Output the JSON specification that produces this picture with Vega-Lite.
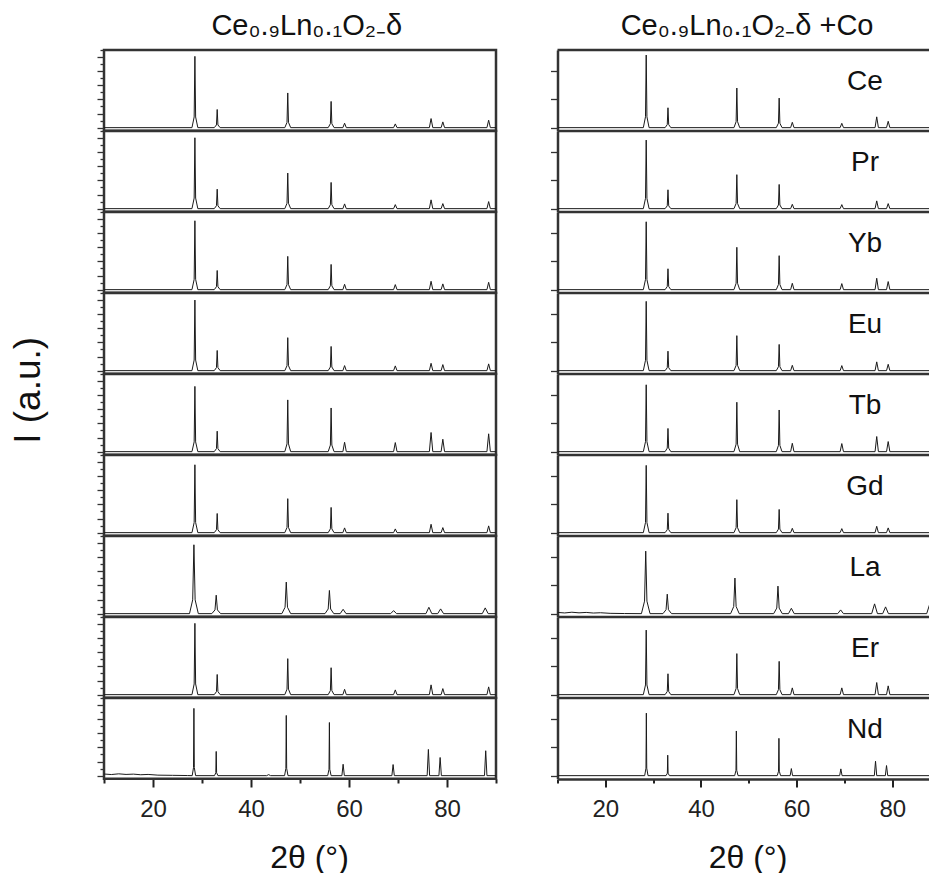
{
"$schema": "https://vega.github.io/schema/vega-lite/v6.json",
"padding": {"left": 10, "top": 11, "right": 0, "bottom": 0},
"title": {"text": "I (a.u.)", "orient": "left", "anchor": "middle", "fontSize": 37, "fontWeight": "normal", "font": "Liberation Sans", "color": "#111", "offset": 48, "dx": 52},
"datasets": {
"L": [
{"s":"Ce","x":10,"y":0},{"s":"Ce","x":27.95,"y":0},{"s":"Ce","x":28.4,"y":10.6},{"s":"Ce","x":28.55,"y":70.7},{"s":"Ce","x":28.7,"y":10.6},{"s":"Ce","x":29.15,"y":0},
{"s":"Ce","x":32.5,"y":0},{"s":"Ce","x":32.95,"y":2.7},{"s":"Ce","x":33.1,"y":18},{"s":"Ce","x":33.25,"y":2.7},{"s":"Ce","x":33.7,"y":0},
{"s":"Ce","x":46.9,"y":0},{"s":"Ce","x":47.35,"y":5.2},{"s":"Ce","x":47.5,"y":34.4},{"s":"Ce","x":47.65,"y":5.2},{"s":"Ce","x":48.1,"y":0},
{"s":"Ce","x":55.75,"y":0},{"s":"Ce","x":56.2,"y":3.9},{"s":"Ce","x":56.35,"y":26},{"s":"Ce","x":56.5,"y":3.9},{"s":"Ce","x":56.95,"y":0},
{"s":"Ce","x":58.75,"y":0},{"s":"Ce","x":59.1,"y":4.4},{"s":"Ce","x":59.45,"y":0},
{"s":"Ce","x":69.1,"y":0},{"s":"Ce","x":69.45,"y":3.7},{"s":"Ce","x":69.8,"y":0},
{"s":"Ce","x":76.4,"y":0},{"s":"Ce","x":76.75,"y":9},{"s":"Ce","x":77.1,"y":0},
{"s":"Ce","x":78.8,"y":0},{"s":"Ce","x":79.15,"y":5.7},{"s":"Ce","x":79.5,"y":0},
{"s":"Ce","x":88.15,"y":0},{"s":"Ce","x":88.5,"y":7.4},{"s":"Ce","x":88.85,"y":0},{"s":"Ce","x":90,"y":0},

{"s":"Pr","x":10,"y":0},{"s":"Pr","x":27.95,"y":0},{"s":"Pr","x":28.4,"y":10.5},{"s":"Pr","x":28.55,"y":70.3},{"s":"Pr","x":28.7,"y":10.5},{"s":"Pr","x":29.15,"y":0},
{"s":"Pr","x":32.5,"y":0},{"s":"Pr","x":32.95,"y":2.9},{"s":"Pr","x":33.1,"y":19.3},{"s":"Pr","x":33.25,"y":2.9},{"s":"Pr","x":33.7,"y":0},
{"s":"Pr","x":46.9,"y":0},{"s":"Pr","x":47.35,"y":5.3},{"s":"Pr","x":47.5,"y":35.3},{"s":"Pr","x":47.65,"y":5.3},{"s":"Pr","x":48.1,"y":0},
{"s":"Pr","x":55.75,"y":0},{"s":"Pr","x":56.2,"y":3.9},{"s":"Pr","x":56.35,"y":26},{"s":"Pr","x":56.5,"y":3.9},{"s":"Pr","x":56.95,"y":0},
{"s":"Pr","x":58.75,"y":0},{"s":"Pr","x":59.1,"y":4.7},{"s":"Pr","x":59.45,"y":0},
{"s":"Pr","x":69.1,"y":0},{"s":"Pr","x":69.45,"y":4},{"s":"Pr","x":69.8,"y":0},
{"s":"Pr","x":76.4,"y":0},{"s":"Pr","x":76.75,"y":8.7},{"s":"Pr","x":77.1,"y":0},
{"s":"Pr","x":78.8,"y":0},{"s":"Pr","x":79.15,"y":5},{"s":"Pr","x":79.5,"y":0},
{"s":"Pr","x":88.15,"y":0},{"s":"Pr","x":88.5,"y":7},{"s":"Pr","x":88.85,"y":0},{"s":"Pr","x":90,"y":0},

{"s":"Yb","x":10,"y":0},{"s":"Yb","x":27.95,"y":0},{"s":"Yb","x":28.4,"y":10.2},{"s":"Yb","x":28.55,"y":68.3},{"s":"Yb","x":28.7,"y":10.2},{"s":"Yb","x":29.15,"y":0},
{"s":"Yb","x":32.5,"y":0},{"s":"Yb","x":32.95,"y":2.9},{"s":"Yb","x":33.1,"y":19},{"s":"Yb","x":33.25,"y":2.9},{"s":"Yb","x":33.7,"y":0},
{"s":"Yb","x":46.9,"y":0},{"s":"Yb","x":47.35,"y":5},{"s":"Yb","x":47.5,"y":33},{"s":"Yb","x":47.65,"y":5},{"s":"Yb","x":48.1,"y":0},
{"s":"Yb","x":55.75,"y":0},{"s":"Yb","x":56.2,"y":3.8},{"s":"Yb","x":56.35,"y":25},{"s":"Yb","x":56.5,"y":3.8},{"s":"Yb","x":56.95,"y":0},
{"s":"Yb","x":58.75,"y":0},{"s":"Yb","x":59.1,"y":5.3},{"s":"Yb","x":59.45,"y":0},
{"s":"Yb","x":69.1,"y":0},{"s":"Yb","x":69.45,"y":5},{"s":"Yb","x":69.8,"y":0},
{"s":"Yb","x":76.4,"y":0},{"s":"Yb","x":76.75,"y":8.3},{"s":"Yb","x":77.1,"y":0},
{"s":"Yb","x":78.8,"y":0},{"s":"Yb","x":79.15,"y":5.7},{"s":"Yb","x":79.5,"y":0},
{"s":"Yb","x":88.15,"y":0},{"s":"Yb","x":88.5,"y":7.3},{"s":"Yb","x":88.85,"y":0},{"s":"Yb","x":90,"y":0},

{"s":"Eu","x":10,"y":0},{"s":"Eu","x":27.95,"y":0},{"s":"Eu","x":28.4,"y":10.5},{"s":"Eu","x":28.55,"y":70},{"s":"Eu","x":28.7,"y":10.5},{"s":"Eu","x":29.15,"y":0},
{"s":"Eu","x":32.5,"y":0},{"s":"Eu","x":32.95,"y":3},{"s":"Eu","x":33.1,"y":20},{"s":"Eu","x":33.25,"y":3},{"s":"Eu","x":33.7,"y":0},
{"s":"Eu","x":46.9,"y":0},{"s":"Eu","x":47.35,"y":4.9},{"s":"Eu","x":47.5,"y":32.7},{"s":"Eu","x":47.65,"y":4.9},{"s":"Eu","x":48.1,"y":0},
{"s":"Eu","x":55.75,"y":0},{"s":"Eu","x":56.2,"y":3.6},{"s":"Eu","x":56.35,"y":24},{"s":"Eu","x":56.5,"y":3.6},{"s":"Eu","x":56.95,"y":0},
{"s":"Eu","x":58.75,"y":0},{"s":"Eu","x":59.1,"y":5},{"s":"Eu","x":59.45,"y":0},
{"s":"Eu","x":69.1,"y":0},{"s":"Eu","x":69.45,"y":4.7},{"s":"Eu","x":69.8,"y":0},
{"s":"Eu","x":76.4,"y":0},{"s":"Eu","x":76.75,"y":7.3},{"s":"Eu","x":77.1,"y":0},
{"s":"Eu","x":78.8,"y":0},{"s":"Eu","x":79.15,"y":6},{"s":"Eu","x":79.5,"y":0},
{"s":"Eu","x":88.15,"y":0},{"s":"Eu","x":88.5,"y":6.7},{"s":"Eu","x":88.85,"y":0},{"s":"Eu","x":90,"y":0},

{"s":"Tb","x":10,"y":0},{"s":"Tb","x":27.95,"y":0},{"s":"Tb","x":28.4,"y":9.7},{"s":"Tb","x":28.55,"y":64.7},{"s":"Tb","x":28.7,"y":9.7},{"s":"Tb","x":29.15,"y":0},
{"s":"Tb","x":32.5,"y":0},{"s":"Tb","x":32.95,"y":3},{"s":"Tb","x":33.1,"y":20.3},{"s":"Tb","x":33.25,"y":3},{"s":"Tb","x":33.7,"y":0},
{"s":"Tb","x":46.9,"y":0},{"s":"Tb","x":47.35,"y":7.7},{"s":"Tb","x":47.5,"y":51.3},{"s":"Tb","x":47.65,"y":7.7},{"s":"Tb","x":48.1,"y":0},
{"s":"Tb","x":55.75,"y":0},{"s":"Tb","x":56.2,"y":6.5},{"s":"Tb","x":56.35,"y":43.3},{"s":"Tb","x":56.5,"y":6.5},{"s":"Tb","x":56.95,"y":0},
{"s":"Tb","x":58.75,"y":0},{"s":"Tb","x":59.1,"y":9.3},{"s":"Tb","x":59.45,"y":0},
{"s":"Tb","x":69.1,"y":0},{"s":"Tb","x":69.45,"y":9},{"s":"Tb","x":69.8,"y":0},
{"s":"Tb","x":76.4,"y":0},{"s":"Tb","x":76.75,"y":19},{"s":"Tb","x":77.1,"y":0},
{"s":"Tb","x":78.8,"y":0},{"s":"Tb","x":79.15,"y":12.3},{"s":"Tb","x":79.5,"y":0},
{"s":"Tb","x":88.15,"y":0},{"s":"Tb","x":88.5,"y":17.7},{"s":"Tb","x":88.85,"y":0},{"s":"Tb","x":90,"y":0},

{"s":"Gd","x":10,"y":0},{"s":"Gd","x":27.95,"y":0},{"s":"Gd","x":28.4,"y":10.1},{"s":"Gd","x":28.55,"y":67.3},{"s":"Gd","x":28.7,"y":10.1},{"s":"Gd","x":29.15,"y":0},
{"s":"Gd","x":32.5,"y":0},{"s":"Gd","x":32.95,"y":2.9},{"s":"Gd","x":33.1,"y":19},{"s":"Gd","x":33.25,"y":2.9},{"s":"Gd","x":33.7,"y":0},
{"s":"Gd","x":46.9,"y":0},{"s":"Gd","x":47.35,"y":5.1},{"s":"Gd","x":47.5,"y":33.7},{"s":"Gd","x":47.65,"y":5.1},{"s":"Gd","x":48.1,"y":0},
{"s":"Gd","x":55.75,"y":0},{"s":"Gd","x":56.2,"y":3.8},{"s":"Gd","x":56.35,"y":25},{"s":"Gd","x":56.5,"y":3.8},{"s":"Gd","x":56.95,"y":0},
{"s":"Gd","x":58.75,"y":0},{"s":"Gd","x":59.1,"y":4.7},{"s":"Gd","x":59.45,"y":0},
{"s":"Gd","x":69.1,"y":0},{"s":"Gd","x":69.45,"y":3.7},{"s":"Gd","x":69.8,"y":0},
{"s":"Gd","x":76.4,"y":0},{"s":"Gd","x":76.75,"y":8.3},{"s":"Gd","x":77.1,"y":0},
{"s":"Gd","x":78.8,"y":0},{"s":"Gd","x":79.15,"y":5},{"s":"Gd","x":79.5,"y":0},
{"s":"Gd","x":88.15,"y":0},{"s":"Gd","x":88.5,"y":6.7},{"s":"Gd","x":88.85,"y":0},{"s":"Gd","x":90,"y":0},

{"s":"La","x":10,"y":0},{"s":"La","x":27.45,"y":0},{"s":"La","x":28.1,"y":13.7},{"s":"La","x":28.35,"y":68.3},{"s":"La","x":28.6,"y":13.7},{"s":"La","x":29.25,"y":0},
{"s":"La","x":32.0,"y":0},{"s":"La","x":32.65,"y":3.7},{"s":"La","x":32.9,"y":18.3},{"s":"La","x":33.15,"y":3.7},{"s":"La","x":33.8,"y":0},
{"s":"La","x":46.3,"y":0},{"s":"La","x":46.95,"y":6.3},{"s":"La","x":47.2,"y":31.3},{"s":"La","x":47.45,"y":6.3},{"s":"La","x":48.1,"y":0},
{"s":"La","x":55.1,"y":0},{"s":"La","x":55.75,"y":4.6},{"s":"La","x":56.0,"y":23},{"s":"La","x":56.25,"y":4.6},{"s":"La","x":56.9,"y":0},
{"s":"La","x":58.2,"y":0},{"s":"La","x":58.8,"y":4.3},{"s":"La","x":59.4,"y":0},
{"s":"La","x":68.5,"y":0},{"s":"La","x":69.1,"y":3},{"s":"La","x":69.7,"y":0},
{"s":"La","x":75.7,"y":0},{"s":"La","x":76.3,"y":6.3},{"s":"La","x":76.9,"y":0},
{"s":"La","x":78.1,"y":0},{"s":"La","x":78.7,"y":4.7},{"s":"La","x":79.3,"y":0},
{"s":"La","x":87.2,"y":0},{"s":"La","x":87.8,"y":5.7},{"s":"La","x":88.4,"y":0},{"s":"La","x":90,"y":0},

{"s":"Er","x":10,"y":0},{"s":"Er","x":27.95,"y":0},{"s":"Er","x":28.4,"y":10.6},{"s":"Er","x":28.55,"y":70.7},{"s":"Er","x":28.7,"y":10.6},{"s":"Er","x":29.15,"y":0},
{"s":"Er","x":32.5,"y":0},{"s":"Er","x":32.95,"y":3},{"s":"Er","x":33.1,"y":20},{"s":"Er","x":33.25,"y":3},{"s":"Er","x":33.7,"y":0},
{"s":"Er","x":46.9,"y":0},{"s":"Er","x":47.35,"y":5.4},{"s":"Er","x":47.5,"y":35.7},{"s":"Er","x":47.65,"y":5.4},{"s":"Er","x":48.1,"y":0},
{"s":"Er","x":55.75,"y":0},{"s":"Er","x":56.2,"y":4},{"s":"Er","x":56.35,"y":26.7},{"s":"Er","x":56.5,"y":4},{"s":"Er","x":56.95,"y":0},
{"s":"Er","x":58.75,"y":0},{"s":"Er","x":59.1,"y":5.3},{"s":"Er","x":59.45,"y":0},
{"s":"Er","x":69.1,"y":0},{"s":"Er","x":69.45,"y":4.7},{"s":"Er","x":69.8,"y":0},
{"s":"Er","x":76.4,"y":0},{"s":"Er","x":76.75,"y":9.7},{"s":"Er","x":77.1,"y":0},
{"s":"Er","x":78.8,"y":0},{"s":"Er","x":79.15,"y":6},{"s":"Er","x":79.5,"y":0},
{"s":"Er","x":88.15,"y":0},{"s":"Er","x":88.5,"y":7.7},{"s":"Er","x":88.85,"y":0},{"s":"Er","x":90,"y":0},

{"s":"Nd","x":10,"y":1.6},{"s":"Nd","x":11.5,"y":1.1},{"s":"Nd","x":13,"y":1.8},{"s":"Nd","x":14.5,"y":1.2},{"s":"Nd","x":16,"y":1.5},{"s":"Nd","x":17.5,"y":0.9},{"s":"Nd","x":19,"y":1.2},{"s":"Nd","x":21,"y":0.5},{"s":"Nd","x":24,"y":0.3},{"s":"Nd","x":27,"y":0.1},
{"s":"Nd","x":28.0,"y":0},{"s":"Nd","x":28.27,"y":8},{"s":"Nd","x":28.35,"y":66.7},{"s":"Nd","x":28.43,"y":8},{"s":"Nd","x":28.7,"y":0},
{"s":"Nd","x":32.55,"y":0},{"s":"Nd","x":32.82,"y":2.9},{"s":"Nd","x":32.9,"y":24},{"s":"Nd","x":32.98,"y":2.9},{"s":"Nd","x":33.25,"y":0},
{"s":"Nd","x":43.2,"y":0},{"s":"Nd","x":43.6,"y":1},{"s":"Nd","x":44.0,"y":0},
{"s":"Nd","x":46.85,"y":0},{"s":"Nd","x":47.12,"y":7.2},{"s":"Nd","x":47.2,"y":59.7},{"s":"Nd","x":47.28,"y":7.2},{"s":"Nd","x":47.55,"y":0},
{"s":"Nd","x":55.65,"y":0},{"s":"Nd","x":55.92,"y":6.3},{"s":"Nd","x":56.0,"y":52.7},{"s":"Nd","x":56.08,"y":6.3},{"s":"Nd","x":56.35,"y":0},
{"s":"Nd","x":58.55,"y":0},{"s":"Nd","x":58.8,"y":11.3},{"s":"Nd","x":59.05,"y":0},
{"s":"Nd","x":68.75,"y":0},{"s":"Nd","x":69.0,"y":11},{"s":"Nd","x":69.25,"y":0},
{"s":"Nd","x":75.95,"y":0},{"s":"Nd","x":76.2,"y":26},{"s":"Nd","x":76.45,"y":0},
{"s":"Nd","x":78.35,"y":0},{"s":"Nd","x":78.6,"y":18},{"s":"Nd","x":78.85,"y":0},
{"s":"Nd","x":87.65,"y":0},{"s":"Nd","x":87.9,"y":24.7},{"s":"Nd","x":88.15,"y":0},{"s":"Nd","x":90,"y":0}
],
"R": [
{"s":"Ce","x":10,"y":0},{"s":"Ce","x":27.95,"y":0},{"s":"Ce","x":28.4,"y":10.8},{"s":"Ce","x":28.55,"y":72},{"s":"Ce","x":28.7,"y":10.8},{"s":"Ce","x":29.15,"y":0},
{"s":"Ce","x":32.5,"y":0},{"s":"Ce","x":32.95,"y":3},{"s":"Ce","x":33.1,"y":19.7},{"s":"Ce","x":33.25,"y":3},{"s":"Ce","x":33.7,"y":0},
{"s":"Ce","x":46.9,"y":0},{"s":"Ce","x":47.35,"y":5.9},{"s":"Ce","x":47.5,"y":39.3},{"s":"Ce","x":47.65,"y":5.9},{"s":"Ce","x":48.1,"y":0},
{"s":"Ce","x":55.75,"y":0},{"s":"Ce","x":56.2,"y":4.4},{"s":"Ce","x":56.35,"y":29.3},{"s":"Ce","x":56.5,"y":4.4},{"s":"Ce","x":56.95,"y":0},
{"s":"Ce","x":58.75,"y":0},{"s":"Ce","x":59.1,"y":5.3},{"s":"Ce","x":59.45,"y":0},
{"s":"Ce","x":69.1,"y":0},{"s":"Ce","x":69.45,"y":4.3},{"s":"Ce","x":69.8,"y":0},
{"s":"Ce","x":76.4,"y":0},{"s":"Ce","x":76.75,"y":10.7},{"s":"Ce","x":77.1,"y":0},
{"s":"Ce","x":78.8,"y":0},{"s":"Ce","x":79.15,"y":6.3},{"s":"Ce","x":79.5,"y":0},
{"s":"Ce","x":88.15,"y":0},{"s":"Ce","x":88.5,"y":7},{"s":"Ce","x":88.85,"y":0},{"s":"Ce","x":90,"y":0},

{"s":"Pr","x":10,"y":0},{"s":"Pr","x":27.95,"y":0},{"s":"Pr","x":28.4,"y":10.2},{"s":"Pr","x":28.55,"y":68},{"s":"Pr","x":28.7,"y":10.2},{"s":"Pr","x":29.15,"y":0},
{"s":"Pr","x":32.5,"y":0},{"s":"Pr","x":32.95,"y":2.8},{"s":"Pr","x":33.1,"y":18.7},{"s":"Pr","x":33.25,"y":2.8},{"s":"Pr","x":33.7,"y":0},
{"s":"Pr","x":46.9,"y":0},{"s":"Pr","x":47.35,"y":5.1},{"s":"Pr","x":47.5,"y":33.7},{"s":"Pr","x":47.65,"y":5.1},{"s":"Pr","x":48.1,"y":0},
{"s":"Pr","x":55.75,"y":0},{"s":"Pr","x":56.2,"y":3.6},{"s":"Pr","x":56.35,"y":24},{"s":"Pr","x":56.5,"y":3.6},{"s":"Pr","x":56.95,"y":0},
{"s":"Pr","x":58.75,"y":0},{"s":"Pr","x":59.1,"y":4.3},{"s":"Pr","x":59.45,"y":0},
{"s":"Pr","x":69.1,"y":0},{"s":"Pr","x":69.45,"y":4},{"s":"Pr","x":69.8,"y":0},
{"s":"Pr","x":76.4,"y":0},{"s":"Pr","x":76.75,"y":7.7},{"s":"Pr","x":77.1,"y":0},
{"s":"Pr","x":78.8,"y":0},{"s":"Pr","x":79.15,"y":5},{"s":"Pr","x":79.5,"y":0},
{"s":"Pr","x":88.15,"y":0},{"s":"Pr","x":88.5,"y":6},{"s":"Pr","x":88.85,"y":0},{"s":"Pr","x":90,"y":0},

{"s":"Yb","x":10,"y":0},{"s":"Yb","x":27.95,"y":0},{"s":"Yb","x":28.4,"y":10.1},{"s":"Yb","x":28.55,"y":67.3},{"s":"Yb","x":28.7,"y":10.1},{"s":"Yb","x":29.15,"y":0},
{"s":"Yb","x":32.5,"y":0},{"s":"Yb","x":32.95,"y":3.1},{"s":"Yb","x":33.1,"y":20.7},{"s":"Yb","x":33.25,"y":3.1},{"s":"Yb","x":33.7,"y":0},
{"s":"Yb","x":46.9,"y":0},{"s":"Yb","x":47.35,"y":6.3},{"s":"Yb","x":47.5,"y":42},{"s":"Yb","x":47.65,"y":6.3},{"s":"Yb","x":48.1,"y":0},
{"s":"Yb","x":55.75,"y":0},{"s":"Yb","x":56.2,"y":5.1},{"s":"Yb","x":56.35,"y":33.7},{"s":"Yb","x":56.5,"y":5.1},{"s":"Yb","x":56.95,"y":0},
{"s":"Yb","x":58.75,"y":0},{"s":"Yb","x":59.1,"y":6.3},{"s":"Yb","x":59.45,"y":0},
{"s":"Yb","x":69.1,"y":0},{"s":"Yb","x":69.45,"y":6},{"s":"Yb","x":69.8,"y":0},
{"s":"Yb","x":76.4,"y":0},{"s":"Yb","x":76.75,"y":11.3},{"s":"Yb","x":77.1,"y":0},
{"s":"Yb","x":78.8,"y":0},{"s":"Yb","x":79.15,"y":8},{"s":"Yb","x":79.5,"y":0},
{"s":"Yb","x":88.15,"y":0},{"s":"Yb","x":88.5,"y":8},{"s":"Yb","x":88.85,"y":0},{"s":"Yb","x":90,"y":0},

{"s":"Eu","x":10,"y":0},{"s":"Eu","x":27.95,"y":0},{"s":"Eu","x":28.4,"y":10.3},{"s":"Eu","x":28.55,"y":68.7},{"s":"Eu","x":28.7,"y":10.3},{"s":"Eu","x":29.15,"y":0},
{"s":"Eu","x":32.5,"y":0},{"s":"Eu","x":32.95,"y":2.9},{"s":"Eu","x":33.1,"y":19.3},{"s":"Eu","x":33.25,"y":2.9},{"s":"Eu","x":33.7,"y":0},
{"s":"Eu","x":46.9,"y":0},{"s":"Eu","x":47.35,"y":5.2},{"s":"Eu","x":47.5,"y":34.7},{"s":"Eu","x":47.65,"y":5.2},{"s":"Eu","x":48.1,"y":0},
{"s":"Eu","x":55.75,"y":0},{"s":"Eu","x":56.2,"y":3.9},{"s":"Eu","x":56.35,"y":26},{"s":"Eu","x":56.5,"y":3.9},{"s":"Eu","x":56.95,"y":0},
{"s":"Eu","x":58.75,"y":0},{"s":"Eu","x":59.1,"y":5.3},{"s":"Eu","x":59.45,"y":0},
{"s":"Eu","x":69.1,"y":0},{"s":"Eu","x":69.45,"y":5},{"s":"Eu","x":69.8,"y":0},
{"s":"Eu","x":76.4,"y":0},{"s":"Eu","x":76.75,"y":8.7},{"s":"Eu","x":77.1,"y":0},
{"s":"Eu","x":78.8,"y":0},{"s":"Eu","x":79.15,"y":6.3},{"s":"Eu","x":79.5,"y":0},
{"s":"Eu","x":88.15,"y":0},{"s":"Eu","x":88.5,"y":7},{"s":"Eu","x":88.85,"y":0},{"s":"Eu","x":90,"y":0},

{"s":"Tb","x":10,"y":0},{"s":"Tb","x":27.95,"y":0},{"s":"Tb","x":28.4,"y":9.9},{"s":"Tb","x":28.55,"y":66.3},{"s":"Tb","x":28.7,"y":9.9},{"s":"Tb","x":29.15,"y":0},
{"s":"Tb","x":32.5,"y":0},{"s":"Tb","x":32.95,"y":3.5},{"s":"Tb","x":33.1,"y":23},{"s":"Tb","x":33.25,"y":3.5},{"s":"Tb","x":33.7,"y":0},
{"s":"Tb","x":46.9,"y":0},{"s":"Tb","x":47.35,"y":7.4},{"s":"Tb","x":47.5,"y":49},{"s":"Tb","x":47.65,"y":7.4},{"s":"Tb","x":48.1,"y":0},
{"s":"Tb","x":55.75,"y":0},{"s":"Tb","x":56.2,"y":6.2},{"s":"Tb","x":56.35,"y":41.3},{"s":"Tb","x":56.5,"y":6.2},{"s":"Tb","x":56.95,"y":0},
{"s":"Tb","x":58.75,"y":0},{"s":"Tb","x":59.1,"y":8.3},{"s":"Tb","x":59.45,"y":0},
{"s":"Tb","x":69.1,"y":0},{"s":"Tb","x":69.45,"y":8},{"s":"Tb","x":69.8,"y":0},
{"s":"Tb","x":76.4,"y":0},{"s":"Tb","x":76.75,"y":15},{"s":"Tb","x":77.1,"y":0},
{"s":"Tb","x":78.8,"y":0},{"s":"Tb","x":79.15,"y":10},{"s":"Tb","x":79.5,"y":0},
{"s":"Tb","x":88.15,"y":0},{"s":"Tb","x":88.5,"y":12},{"s":"Tb","x":88.85,"y":0},{"s":"Tb","x":90,"y":0},

{"s":"Gd","x":10,"y":0},{"s":"Gd","x":27.95,"y":0},{"s":"Gd","x":28.4,"y":10},{"s":"Gd","x":28.55,"y":66.7},{"s":"Gd","x":28.7,"y":10},{"s":"Gd","x":29.15,"y":0},
{"s":"Gd","x":32.5,"y":0},{"s":"Gd","x":32.95,"y":2.9},{"s":"Gd","x":33.1,"y":19.3},{"s":"Gd","x":33.25,"y":2.9},{"s":"Gd","x":33.7,"y":0},
{"s":"Gd","x":46.9,"y":0},{"s":"Gd","x":47.35,"y":4.9},{"s":"Gd","x":47.5,"y":32.7},{"s":"Gd","x":47.65,"y":4.9},{"s":"Gd","x":48.1,"y":0},
{"s":"Gd","x":55.75,"y":0},{"s":"Gd","x":56.2,"y":3.5},{"s":"Gd","x":56.35,"y":23},{"s":"Gd","x":56.5,"y":3.5},{"s":"Gd","x":56.95,"y":0},
{"s":"Gd","x":58.75,"y":0},{"s":"Gd","x":59.1,"y":4.3},{"s":"Gd","x":59.45,"y":0},
{"s":"Gd","x":69.1,"y":0},{"s":"Gd","x":69.45,"y":4},{"s":"Gd","x":69.8,"y":0},
{"s":"Gd","x":76.4,"y":0},{"s":"Gd","x":76.75,"y":6.3},{"s":"Gd","x":77.1,"y":0},
{"s":"Gd","x":78.8,"y":0},{"s":"Gd","x":79.15,"y":4.7},{"s":"Gd","x":79.5,"y":0},
{"s":"Gd","x":88.15,"y":0},{"s":"Gd","x":88.5,"y":6},{"s":"Gd","x":88.85,"y":0},{"s":"Gd","x":90,"y":0},

{"s":"La","x":10,"y":1.2},{"s":"La","x":11.5,"y":0.7},{"s":"La","x":13,"y":1.4},{"s":"La","x":14.5,"y":0.8},{"s":"La","x":16,"y":1.2},{"s":"La","x":17.5,"y":0.6},{"s":"La","x":19,"y":0.9},{"s":"La","x":21,"y":0.3},{"s":"La","x":24,"y":0.1},
{"s":"La","x":27.55,"y":0},{"s":"La","x":28.2,"y":12.4},{"s":"La","x":28.45,"y":62},{"s":"La","x":28.7,"y":12.4},{"s":"La","x":29.35,"y":0},
{"s":"La","x":32.05,"y":0},{"s":"La","x":32.7,"y":3.9},{"s":"La","x":32.95,"y":19.3},{"s":"La","x":33.2,"y":3.9},{"s":"La","x":33.85,"y":0},
{"s":"La","x":46.2,"y":0},{"s":"La","x":46.85,"y":7.1},{"s":"La","x":47.1,"y":35.3},{"s":"La","x":47.35,"y":7.1},{"s":"La","x":48.0,"y":0},
{"s":"La","x":55.2,"y":0},{"s":"La","x":55.85,"y":5.5},{"s":"La","x":56.1,"y":27.3},{"s":"La","x":56.35,"y":5.5},{"s":"La","x":57.0,"y":0},
{"s":"La","x":58.3,"y":0},{"s":"La","x":58.9,"y":5.3},{"s":"La","x":59.5,"y":0},
{"s":"La","x":68.6,"y":0},{"s":"La","x":69.2,"y":3.7},{"s":"La","x":69.8,"y":0},
{"s":"La","x":75.7,"y":0},{"s":"La","x":76.3,"y":9.7},{"s":"La","x":76.9,"y":0},
{"s":"La","x":78.0,"y":0},{"s":"La","x":78.6,"y":6.7},{"s":"La","x":79.2,"y":0},
{"s":"La","x":87.2,"y":0},{"s":"La","x":87.8,"y":9},{"s":"La","x":88.4,"y":0},{"s":"La","x":90,"y":0},

{"s":"Er","x":10,"y":0},{"s":"Er","x":27.95,"y":0},{"s":"Er","x":28.4,"y":9.6},{"s":"Er","x":28.55,"y":64},{"s":"Er","x":28.7,"y":9.6},{"s":"Er","x":29.15,"y":0},
{"s":"Er","x":32.5,"y":0},{"s":"Er","x":32.95,"y":3.1},{"s":"Er","x":33.1,"y":20.7},{"s":"Er","x":33.25,"y":3.1},{"s":"Er","x":33.7,"y":0},
{"s":"Er","x":46.9,"y":0},{"s":"Er","x":47.35,"y":6.1},{"s":"Er","x":47.5,"y":40.7},{"s":"Er","x":47.65,"y":6.1},{"s":"Er","x":48.1,"y":0},
{"s":"Er","x":55.75,"y":0},{"s":"Er","x":56.2,"y":5},{"s":"Er","x":56.35,"y":33},{"s":"Er","x":56.5,"y":5},{"s":"Er","x":56.95,"y":0},
{"s":"Er","x":58.75,"y":0},{"s":"Er","x":59.1,"y":6.7},{"s":"Er","x":59.45,"y":0},
{"s":"Er","x":69.1,"y":0},{"s":"Er","x":69.45,"y":6.7},{"s":"Er","x":69.8,"y":0},
{"s":"Er","x":76.4,"y":0},{"s":"Er","x":76.75,"y":12},{"s":"Er","x":77.1,"y":0},
{"s":"Er","x":78.8,"y":0},{"s":"Er","x":79.15,"y":8.7},{"s":"Er","x":79.5,"y":0},
{"s":"Er","x":88.15,"y":0},{"s":"Er","x":88.5,"y":9},{"s":"Er","x":88.85,"y":0},{"s":"Er","x":90,"y":0},

{"s":"Nd","x":10,"y":0},{"s":"Nd","x":28.23,"y":0},{"s":"Nd","x":28.5,"y":7.4},{"s":"Nd","x":28.58,"y":62},{"s":"Nd","x":28.66,"y":7.4},{"s":"Nd","x":28.93,"y":0},
{"s":"Nd","x":32.7,"y":0},{"s":"Nd","x":32.97,"y":2.4},{"s":"Nd","x":33.05,"y":20.3},{"s":"Nd","x":33.13,"y":2.4},{"s":"Nd","x":33.4,"y":0},
{"s":"Nd","x":47.05,"y":0},{"s":"Nd","x":47.32,"y":5.3},{"s":"Nd","x":47.4,"y":44.3},{"s":"Nd","x":47.48,"y":5.3},{"s":"Nd","x":47.75,"y":0},
{"s":"Nd","x":55.95,"y":0},{"s":"Nd","x":56.22,"y":4.4},{"s":"Nd","x":56.3,"y":37},{"s":"Nd","x":56.38,"y":4.4},{"s":"Nd","x":56.65,"y":0},
{"s":"Nd","x":58.65,"y":0},{"s":"Nd","x":58.9,"y":7},{"s":"Nd","x":59.15,"y":0},
{"s":"Nd","x":69.0,"y":0},{"s":"Nd","x":69.25,"y":6.7},{"s":"Nd","x":69.5,"y":0},
{"s":"Nd","x":76.25,"y":0},{"s":"Nd","x":76.5,"y":14.3},{"s":"Nd","x":76.75,"y":0},
{"s":"Nd","x":78.55,"y":0},{"s":"Nd","x":78.8,"y":10},{"s":"Nd","x":79.05,"y":0},
{"s":"Nd","x":87.85,"y":0},{"s":"Nd","x":88.1,"y":20},{"s":"Nd","x":88.35,"y":0},{"s":"Nd","x":90,"y":0}
]
},
"hconcat": [
{
"data": {"name": "L"},
"title": {"text": "Ce₀.₉Ln₀.₁O₂₋δ", "fontSize": 29, "fontWeight": "normal", "font": "Liberation Sans", "color": "#111", "anchor": "middle", "baseline": "bottom", "offset": 4, "dx": 10, "dy": 25},
"facet": {"row": {"field": "s", "type": "nominal", "sort": ["Ce","Pr","Yb","Eu","Tb","Gd","La","Er","Nd"], "header": null}},
"spacing": 0,
"bounds": "flush",
"spec": {
"width": 392, "height": 80.67,
"mark": {"type": "line", "color": "#1a1a1a", "strokeWidth": 1, "clip": true},
"encoding": {
"x": {"field": "x", "type": "quantitative", "scale": {"domain": [10, 90], "nice": false, "zero": false},
"axis": {"title": "2θ (°)", "titleX": 205, "values": [10,20,30,40,50,60,70,80,90], "labelExpr": "datum.value % 20 === 0 ? datum.label : ''", "domain": false, "tickSize": {"condition": {"test": "datum.value % 20 === 0", "value": 8}, "value": 4}, "tickWidth": 2, "tickColor": "#222", "labelFontSize": 24, "labelPadding": 10, "labelColor": "#222", "titleFontSize": 32, "titlePadding": 21, "titleFontWeight": "normal", "titleColor": "#111"}},
"y": {"field": "y", "type": "quantitative", "scale": {"domain": [-3, 77], "nice": false, "zero": false},
"axis": {"title": null, "labels": false, "domain": false, "values": [0,7,14,21,28,35,42,49,56,63,70,77], "tickSize": {"condition": {"test": "datum.value % 14 === 0", "value": 7}, "value": 4}, "tickWidth": 1.3, "tickColor": "#333"}}
}
}
},
{
"data": {"name": "R"},
"title": {"text": "Ce₀.₉Ln₀.₁O₂₋δ +Co", "fontSize": 29, "fontWeight": "normal", "font": "Liberation Sans", "color": "#111", "anchor": "middle", "baseline": "bottom", "offset": 4, "dx": 6, "dy": 25},
"facet": {"row": {"field": "s", "type": "nominal", "sort": ["Ce","Pr","Yb","Eu","Tb","Gd","La","Er","Nd"], "header": null}},
"spacing": 0,
"bounds": "flush",
"spec": {
"width": 373.5, "height": 80.67,
"view": {"stroke": null},
"layer": [
{"mark": {"type": "line", "color": "#1a1a1a", "strokeWidth": 1, "clip": true},
"encoding": {
"x": {"field": "x", "type": "quantitative", "scale": {"domain": [10, 88.1], "nice": false, "zero": false},
"axis": {"title": "2θ (°)", "titleX": 190, "values": [10,20,30,40,50,60,70,80], "labelExpr": "datum.value % 20 === 0 ? datum.label : ''", "domain": true, "domainWidth": 2.5, "domainColor": "#333", "tickSize": {"condition": {"test": "datum.value % 20 === 0", "value": 8}, "value": 4}, "tickWidth": 2, "tickColor": "#222", "labelFontSize": 24, "labelPadding": 10, "labelColor": "#222", "titleFontSize": 32, "titlePadding": 21, "titleFontWeight": "normal", "titleColor": "#111"}},
"y": {"field": "y", "type": "quantitative", "scale": {"domain": [-3, 77], "nice": false, "zero": false},
"axis": {"title": null, "labels": false, "domain": true, "domainWidth": 2.5, "domainColor": "#333", "values": [0,7,14,21,28,35,42,49,56,63,70,77], "tickSize": {"condition": {"test": "datum.value % 14 === 0", "value": 7}, "value": 4}, "tickWidth": 1.3, "tickColor": "#333"}}
}},
{"transform": [{"aggregate": [{"op": "count", "as": "n"}], "groupby": ["s"]}],
 "mark": {"type": "rule", "color": "#333", "strokeWidth": 2.5},
 "encoding": {"y": {"datum": 77}}},
{"transform": [{"aggregate": [{"op": "count", "as": "n"}], "groupby": ["s"]}],
 "mark": {"type": "text", "fontSize": 28, "font": "Liberation Sans", "color": "#111", "align": "center", "baseline": "middle"},
 "encoding": {"x": {"datum": 74.3}, "y": {"datum": 45}, "text": {"field": "s"}}}
]
}
}
],
"spacing": 51.5,
"config": {
"font": "Liberation Sans",
"view": {"stroke": "#333", "strokeWidth": 2.5},
"axis": {"grid": false, "labelFont": "Liberation Sans", "titleFont": "Liberation Sans"}
}
}
